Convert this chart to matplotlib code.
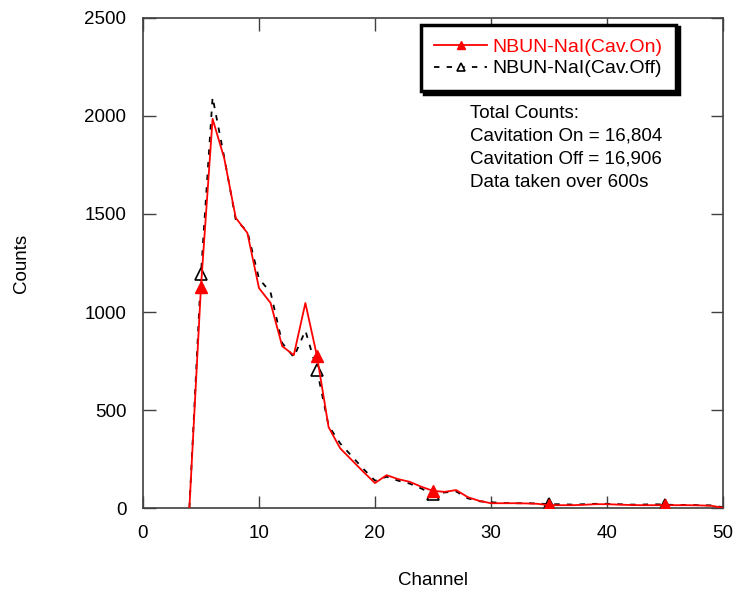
import matplotlib
matplotlib.use("Agg")
import matplotlib.pyplot as plt

channels = list(range(4, 51))
counts_on = [0, 1130, 1985, 1785, 1480, 1403, 1122, 1046, 826, 780, 1046, 775,
             413, 305, 245, 185, 128, 168, 148, 134, 109, 88, 83, 92, 56, 37,
             25, 25, 25, 24, 22, 15, 15, 15, 17, 20, 20, 18, 16, 15, 15, 15,
             15, 15, 14, 12, 2]
counts_off = [0, 1195, 2095, 1790, 1470, 1410, 1170, 1100, 842, 770, 905, 705,
              420, 330, 265, 200, 140, 160, 140, 125, 100, 70, 80, 85, 50, 35,
              30, 26, 25, 25, 24, 20, 20, 18, 20, 22, 22, 20, 18, 18, 20, 18,
              16, 16, 15, 14, 5]
label_on = "NBUN-NaI(Cav.On)"
label_off = "NBUN-NaI(Cav.Off)"
x_ticks = [0, 10, 20, 30, 40, 50]
y_ticks = [0, 500, 1000, 1500, 2000, 2500]
note_lines = ["Total Counts:", "Cavitation On = 16,804",
              "Cavitation Off = 16,906", "Data taken over 600s"]

FS = 13.5
plt.rcParams['font.family'] = ['Liberation Sans', 'DejaVu Sans']
fig = plt.figure(figsize=(7.37, 5.95), dpi=100)
ax = fig.add_axes([0.194, 0.146, 0.787, 0.824])

ax.plot(channels, counts_off, color='black', linestyle=(0, (3, 4)), lw=1.3,
        marker='^', markevery=(1, 10), markersize=8, markerfacecolor='white',
        markeredgecolor='black', markeredgewidth=1.2, label=label_off, zorder=2)
ax.plot(channels, counts_on, color='red', lw=1.3,
        marker='^', markevery=(1, 10), markersize=8, markerfacecolor='red',
        markeredgecolor='red', label=label_on, zorder=3)

ax.set_xlim(0, 50)
ax.set_ylim(0, 2500)
ax.set_xticks(x_ticks)
ax.set_yticks(y_ticks)
ax.tick_params(direction='in', length=9, width=1, top=True, right=True,
               labelsize=FS, pad=12, color='#404040')
for s in ax.spines.values():
    s.set_color('#404040')
    s.set_linewidth(1.2)
ax.set_xlabel("Channel", fontsize=FS, va='center')
ax.set_ylabel("Counts", fontsize=FS, va='center')
ax.xaxis.set_label_coords(0.5, -0.147)
ax.yaxis.set_label_coords(-0.21, 0.5)

handles, labels = ax.get_legend_handles_labels()
leg = ax.legend(handles[::-1], labels[::-1], loc='upper left',
                bbox_to_anchor=(0.479, 0.986), borderaxespad=0,
                fontsize=14, frameon=True,
                fancybox=False, shadow={'color': 'black', 'alpha': 1},
                edgecolor='black', framealpha=1,
                handlelength=2.7, borderpad=0.7, labelspacing=0.2,
                handletextpad=0.3, markerscale=0.75)
leg.get_frame().set_linewidth(2.5)
leg.get_texts()[0].set_color('red')

ax.text(0.564, 0.822, "\n".join(note_lines), transform=ax.transAxes,
        fontsize=FS, va='top', ha='left', linespacing=1.45)

fig.savefig("out.png", dpi=100)
